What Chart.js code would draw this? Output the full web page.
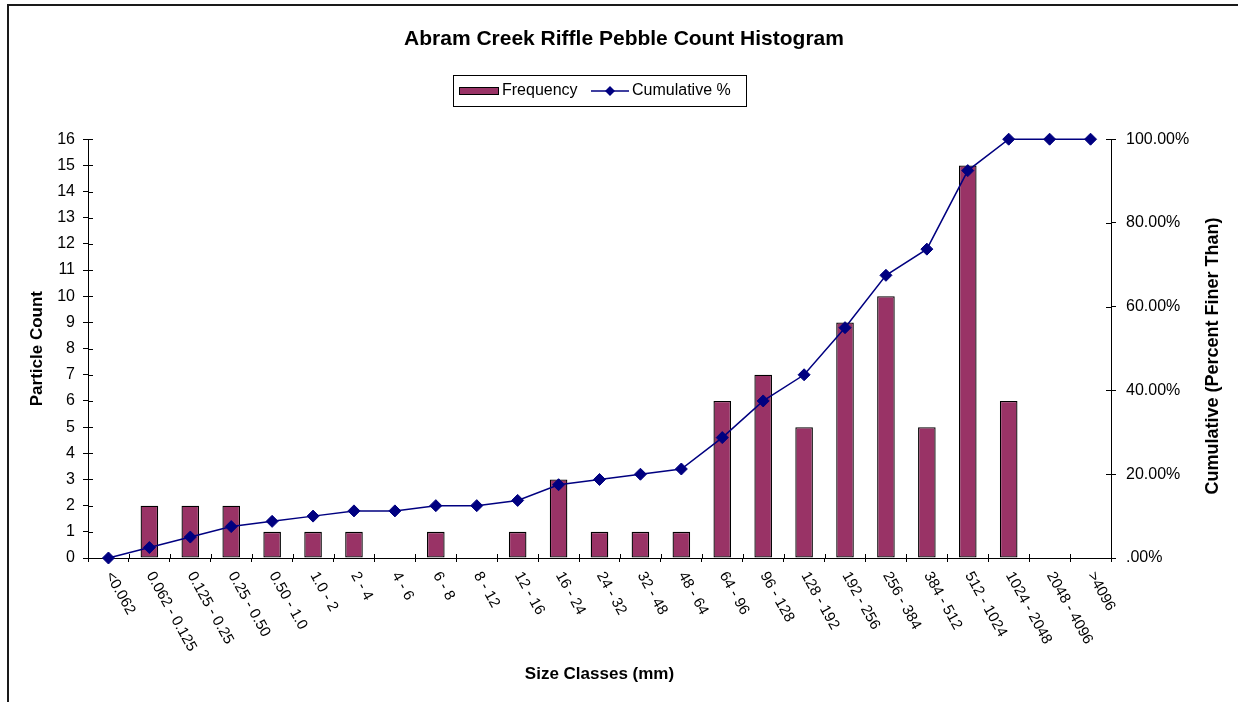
<!DOCTYPE html>
<html>
<head>
<meta charset="utf-8">
<script src="https://cdn.jsdelivr.net/npm/chart.js@4.4.1/dist/chart.umd.min.js"></script>
<style>
html,body{margin:0;padding:0;background:#fff;overflow:hidden}
#wrap{width:1238px;height:702px;position:relative}
</style>
</head>
<body>
<div id="wrap"><canvas id="c" width="1238" height="702"></canvas></div>
<script>
// ---- data ----
const categories = ['<0.062','0.062 - 0.125','0.125 - 0.25','0.25 - 0.50','0.50 - 1.0','1.0 - 2','2 - 4','4 - 6','6 - 8','8 - 12','12 - 16','16 - 24','24 - 32','32 - 48','48 - 64','64 - 96','96 - 128','128 - 192','192 - 256','256 - 384','384 - 512','512 - 1024','1024 - 2048','2048 - 4096','>4096'];
const frequency = [0,2,2,2,1,1,1,0,1,0,1,3,1,1,1,6,7,5,9,10,5,15,6,0,0];
const cumulativePct = [0,2.5,5,7.5,8.75,10,11.25,11.25,12.5,12.5,13.75,17.5,18.75,20,21.25,28.75,37.5,43.75,55,67.5,73.75,92.5,100,100,100];
const rightTickLabels = ['.00%','20.00%','40.00%','60.00%','80.00%','100.00%'];
const chartTitle = 'Abram Creek Riffle Pebble Count Histogram';
const xTitle = 'Size Classes (mm)';
const yTitle = 'Particle Count';
const y1Title = 'Cumulative (Percent Finer Than)';

const FONT = '"Liberation Sans", Arial, Helvetica, sans-serif';
const BAR_COLOR = '#993366';
const LINE_COLOR = '#000080';

const decor = {
  id: 'decor',
  beforeDraw(chart) {
    const ctx = chart.ctx;
    ctx.save();
    ctx.fillStyle = '#fff';
    ctx.fillRect(0, 0, chart.width, chart.height);
    ctx.strokeStyle = '#1a1a1a';
    ctx.lineWidth = 2;
    ctx.beginPath();
    ctx.moveTo(8, chart.height + 2);
    ctx.lineTo(8, 5);
    ctx.lineTo(chart.width + 2, 5);
    ctx.stroke();
    ctx.restore();
  },
  afterDraw(chart) {
    const ctx = chart.ctx;
    const xs = chart.scales.x, ys = chart.scales.y, y1 = chart.scales.y1;
    const area = chart.chartArea;
    ctx.save();
    // inner halves of tick marks
    ctx.strokeStyle = '#000';
    ctx.lineWidth = 1;
    ctx.beginPath();
    for (let i = 0; i <= categories.length; i++) {
      const px = Math.round(xs.getPixelForValue(i - 0.5)) + 0.5;
      ctx.moveTo(px, area.bottom);
      ctx.lineTo(px, area.bottom - 4);
    }
    ys.ticks.forEach(t => {
      const py = Math.round(ys.getPixelForValue(t.value)) + 0.5;
      ctx.moveTo(area.left, py);
      ctx.lineTo(area.left + 5, py);
    });
    y1.ticks.forEach(t => {
      const py = Math.round(y1.getPixelForValue(t.value)) + 0.5;
      ctx.moveTo(area.right, py);
      ctx.lineTo(area.right - 5, py);
    });
    ctx.stroke();

    // rotated category labels
    ctx.fillStyle = '#000';
    ctx.font = '15px ' + FONT;
    ctx.textAlign = 'left';
    ctx.textBaseline = 'middle';
    categories.forEach((lab, i) => {
      const px = xs.getPixelForValue(i);
      ctx.save();
      ctx.translate(px + 0.5, area.bottom + 15);
      ctx.rotate(61 * Math.PI / 180);
      ctx.fillText(lab, 0, 0);
      ctx.restore();
    });

    // right axis title (reads bottom to top)
    ctx.save();
    ctx.font = 'bold 18px ' + FONT;
    ctx.textAlign = 'center';
    ctx.textBaseline = 'middle';
    ctx.translate(1213, 356);
    ctx.rotate(-Math.PI / 2);
    ctx.fillText(y1Title, 0, 0);
    ctx.restore();

    // legend
    const ds = chart.data.datasets;
    const barDs = ds.find(d => d.type === 'bar');
    const lineDs = ds.find(d => d.type === 'line');
    ctx.lineWidth = 1;
    ctx.strokeStyle = '#000';
    ctx.strokeRect(453.5, 75.5, 293, 31);
    const ly = 91;
    ctx.fillStyle = BAR_COLOR;
    ctx.fillRect(459.5, 87.5, 39, 7);
    ctx.strokeRect(459.5, 87.5, 39, 7);
    ctx.fillStyle = '#000';
    ctx.font = '16px ' + FONT;
    ctx.textAlign = 'left';
    ctx.textBaseline = 'middle';
    ctx.fillText(barDs.label, 502, ly);
    ctx.strokeStyle = LINE_COLOR;
    ctx.lineWidth = 1.5;
    ctx.beginPath();
    ctx.moveTo(591, ly); ctx.lineTo(629, ly);
    ctx.stroke();
    ctx.fillStyle = LINE_COLOR;
    ctx.beginPath();
    ctx.moveTo(610, ly - 5); ctx.lineTo(615, ly); ctx.lineTo(610, ly + 5); ctx.lineTo(605, ly);
    ctx.closePath();
    ctx.fill();
    ctx.fillStyle = '#000';
    ctx.fillText(lineDs.label, 632, ly);
    ctx.restore();
  }
};

new Chart(document.getElementById('c'), {
  data: {
    labels: categories,
    datasets: [
      {
        type: 'line',
        label: 'Cumulative %',
        data: cumulativePct,
        yAxisID: 'y1',
        borderColor: LINE_COLOR,
        borderWidth: 1.5,
        pointStyle: 'rectRot',
        pointRadius: 6,
        pointBackgroundColor: LINE_COLOR,
        pointBorderColor: LINE_COLOR,
        pointBorderWidth: 1,
        tension: 0,
        fill: false,
        clip: false,
        order: 0
      },
      {
        type: 'bar',
        label: 'Frequency',
        data: frequency,
        yAxisID: 'y',
        backgroundColor: BAR_COLOR,
        borderColor: '#000',
        borderWidth: 1.3,
        borderSkipped: false,
        barPercentage: 0.43,
        categoryPercentage: 1,
        order: 1
      }
    ]
  },
  options: {
    responsive: false,
    animation: false,
    devicePixelRatio: 1,
    layout: { padding: { left: 10, right: 0, top: 0, bottom: 0 } },
    plugins: {
      legend: { display: false },
      tooltip: { enabled: false },
      title: {
        display: true,
        text: chartTitle,
        color: '#000',
        font: { family: FONT, size: 21, weight: 'bold' },
        padding: { top: 27, bottom: 87 }
      }
    },
    scales: {
      x: {
        type: 'category',
        offset: true,
        grid: { offset: true, drawOnChartArea: false, drawTicks: true, tickLength: 4, color: '#000' },
        border: { color: '#000', width: 1 },
        ticks: { display: false },
        title: {
          display: true, text: xTitle, color: '#000',
          font: { family: FONT, size: 17, weight: 'bold' },
          padding: { top: 0, bottom: 17 }
        },
        afterFit(s) { s.height = 144; }
      },
      y: {
        position: 'left',
        min: 0, max: 16,
        ticks: { stepSize: 1, color: '#000', padding: 8, font: { family: FONT, size: 16 } },
        grid: { drawOnChartArea: false, tickLength: 5, color: '#000' },
        border: { color: '#000', width: 1 },
        title: {
          display: true, text: yTitle, color: '#000',
          font: { family: FONT, size: 17, weight: 'bold' },
          padding: { top: 17, bottom: 0 }
        },
        afterFit(s) { s.width = 78; }
      },
      y1: {
        position: 'right',
        min: 0, max: 100,
        ticks: {
          stepSize: 20, color: '#000', padding: 10, font: { family: FONT, size: 16 },
          callback: (v) => rightTickLabels[Math.round(v / 20)]
        },
        grid: { drawOnChartArea: false, tickLength: 5, color: '#000' },
        border: { color: '#000', width: 1 },
        afterFit(s) { s.width = 127; }
      }
    }
  },
  plugins: [decor]
});
</script>
</body>
</html>
